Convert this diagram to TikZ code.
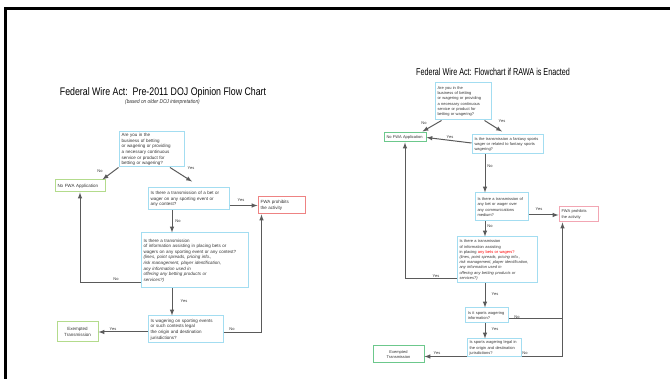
\documentclass[tikz,border=0pt]{standalone}
\usepackage{fontspec}
\setmainfont{Liberation Sans}
\newfontfamily\titlefont[FakeStretch=0.72]{Liberation Sans}
\newfontfamily\titlewide[FakeStretch=0.8]{Liberation Sans}
\newfontfamily\subfont[FakeStretch=0.85]{Liberation Sans}
\usetikzlibrary{positioning}
\definecolor{qblue}{HTML}{A3DDF1}
\definecolor{okgreenL}{HTML}{B3DB8C}
\definecolor{okgreenR}{HTML}{6CC88C}
\definecolor{stopredL}{HTML}{EE8383}
\definecolor{stopredR}{HTML}{F2A6B3}
\definecolor{linegray}{HTML}{5A5A5A}
\definecolor{txtgray}{HTML}{333333}

\begin{document}
\begin{tikzpicture}
  [x=1pt,y=-1pt,>=latex,
   lfont/.style={font=\fontsize{4.5}{5.6}\selectfont},
   rfont/.style={font=\fontsize{4}{5.2}\selectfont},
   box/.style n args={3}{draw=#1,line width=1pt,text width=#2,minimum height=#3,
     inner xsep=2.5pt,inner ysep=1pt,align=left,text=txtgray},
   qbox/.style 2 args={box={qblue}{#1}{#2}},
   arr/.style={->,draw=linegray,line width=1pt},
   lbl/.style={font=\fontsize{4}{5}\selectfont,text=txtgray,inner sep=0pt}]

  \useasboundingbox (0,0) rectangle (670,379);
  \draw[line width=3pt] (5.5,379) -- (5.5,8.5) -- (670,8.5);

  % pre-2011 chart
  \node[font=\titlewide\fontsize{11}{12}\selectfont] (tL) at (163,92.5)
    {Federal Wire Act:\ \ Pre-2011 DOJ Opinion Flow Chart};
  \node[font=\subfont\itshape\fontsize{5.6}{6}\selectfont,text=txtgray] (sL) at (162.5,102.5)
    {(based on older DOJ interpretation)};
  \node[qbox={60pt}{35pt},lfont] (q1L) at (151.5,149.5)
    {Are you in the\\business of betting\\or wagering or providing\\a necessary continuous\\service or product for\\betting or wagering?};
  \node[box={okgreenL}{45pt}{12pt},lfont] (noL) at (80,186) {No FWA Application};
  \node[qbox={76pt}{22pt},lfont] (q2L) at (188.5,199)
    {Is there a transmission of a bet or\\wager on any sporting event or\\any contest?};
  \node[box={stopredL}{42pt}{17pt},lfont] (fwaL) at (281.5,205.5) {FWA prohibits\\the activity};
  \node[qbox={102pt}{55pt},lfont] (q3L) at (194.5,260.5)
    {Is there a transmission\\of information assisting in placing bets or\\wagers on any sporting event or any contest?\\
     \itshape (lines, point spreads, pricing info.,\\risk management, player identification,\\any information used in\\offering any betting products or\\services?)};
  \node[qbox={70pt}{27pt},lfont] (q4L) at (185.5,329.5)
    {Is wagering on sporting events\\or such contests legal\\the origin and destination\\jurisdictions?};
  \node[box={okgreenL}{36pt}{20pt},lfont,align=center] (exL) at (77.5,332) {Exempted\\Transmission};

  \draw[arr] (q1L.south west) -- ([xshift=-3pt]noL.north east);
  \draw[arr] ([xshift=18.5pt]q1L.south) -- ([xshift=3.5pt,yshift=6pt]q2L.north);
  \draw[arr] (q2L.east |- fwaL.west) -- (fwaL.west);
  \draw[arr] ([xshift=-16.5pt]q2L.south) -- ([xshift=-16.5pt]q2L.south |- q3L.north);
  \draw[arr] ([yshift=-22.5pt]q3L.west) -| (noL.south);
  \draw[arr] ([xshift=-22.5pt]q3L.south) -- ([xshift=-22.5pt]q3L.south |- q4L.north);
  \draw[arr] (q4L.west |- exL.east) -- (exL.east);
  \draw[arr] ([yshift=-3.5pt]q4L.east) -| ([xshift=4pt]fwaL.south west);

  % chart if RAWA is enacted
  \node[font=\titlefont\fontsize{10}{11}\selectfont] (tR) at (493,72)
    {Federal Wire Act: Flowchart if RAWA is Enacted};
  \node[qbox={51pt}{37pt},rfont] (q1R) at (463,101.5)
    {Are you in the\\business of betting\\or wagering or providing\\a necessary continuous\\service or product for\\betting or wagering?};
  \node[box={okgreenR}{37pt}{9pt},rfont] (noR) at (405,137.5) {No FWA Application};
  \node[qbox={66pt}{19pt},rfont] (q2R) at (507.5,144.5)
    {Is the transmission a fantasy sports\\wager or related to fantasy sports\\wagering?};
  \node[qbox={48pt}{28pt},rfont] (q3R) at (501.5,207)
    {Is there a transmission of\\any bet or wager over\\any communications\\medium?};
  \node[box={stopredR}{34pt}{15pt},rfont] (fwaR) at (578.5,214.5) {FWA prohibits\\the activity};
  \node[qbox={75pt}{46pt},rfont] (q4R) at (497,260)
    {Is there a transmission\\of information assisting\\in placing \textcolor{red}{any bets or wagers?}\\
     \itshape (lines, point spreads, pricing info.,\\risk management, player identification,\\any information used in\\offering any betting products or\\services?)};
  \node[qbox={38pt}{15pt},rfont] (q5R) at (487,315.5) {Is it sports wagering\\information?};
  \node[qbox={49pt}{18pt},rfont] (q6R) at (494,348)
    {Is sports wagering legal in\\the origin and destination\\jurisdictions?};
  \node[box={okgreenR}{46pt}{17pt},rfont,align=center] (exR) at (398.5,354.5) {Exempted\\Transmission};
  \coordinate (fwaFoot) at ([xshift=4pt]fwaR.south west);

  \draw[arr] ([xshift=7pt]q1R.south west) -- ([xshift=-4pt,yshift=1pt]noR.north east);
  \draw[arr] ([xshift=-7pt]q1R.south east) -- ([xshift=-5.5pt,yshift=3pt]q2R.north);
  \draw[arr] ([yshift=1.5pt]q2R.west) -- (noR.east);
  \draw[arr] ([xshift=-22.5pt]q2R.south) -- ([xshift=-22.5pt]q2R.south |- q3R.north);
  \draw[arr] ([yshift=-8pt]q3R.east) -- ([yshift=-8pt]q3R.east -| fwaR.west);
  \draw[arr] ([xshift=-16.5pt]q3R.south) -- ([xshift=-16.5pt]q3R.south |- q4R.north);
  \draw[arr] ([yshift=-19pt]q4R.west) -| (noR.south);
  \draw[arr] ([xshift=-12pt]q4R.south) -- ([xshift=-12pt]q4R.south |- q5R.north);
  \draw[arr,-] ([yshift=-3.5pt]q5R.east) -- ([yshift=-3.5pt]q5R.east -| fwaFoot);
  \draw[arr] ([xshift=-2pt]q5R.south) -- ([xshift=-2pt]q5R.south |- q6R.north);
  \draw[arr] ([yshift=-8.5pt]q6R.west) -- ([yshift=-8.5pt]q6R.west -| exR.east);
  \draw[arr] ([yshift=-8.5pt]q6R.east) -| (fwaFoot);

  % Yes / No labels
  \foreach \n/\x/\y/\t in {noA/100/171/No, yesA/191/168/Yes, yesB/241/200.5/Yes,
      noB/178/221/No, noC/116/279/No, yesC/184/301/Yes, yesD/113/329/Yes, noD/232/329/No,
      noE/424/123/No, yesE/502/121/Yes, yesF/450/137/Yes, noF/490/166/No,
      yesG/539/209/Yes, noG/490/226/No, yesH/436/276/Yes, yesI/495/294/Yes,
      noH/517/317/No, yesJ/495/329/Yes, yesK/437/353/Yes, noI/525/353/No}
    \node[lbl] (\n) at (\x,\y) {\t};
\end{tikzpicture}
\end{document}
